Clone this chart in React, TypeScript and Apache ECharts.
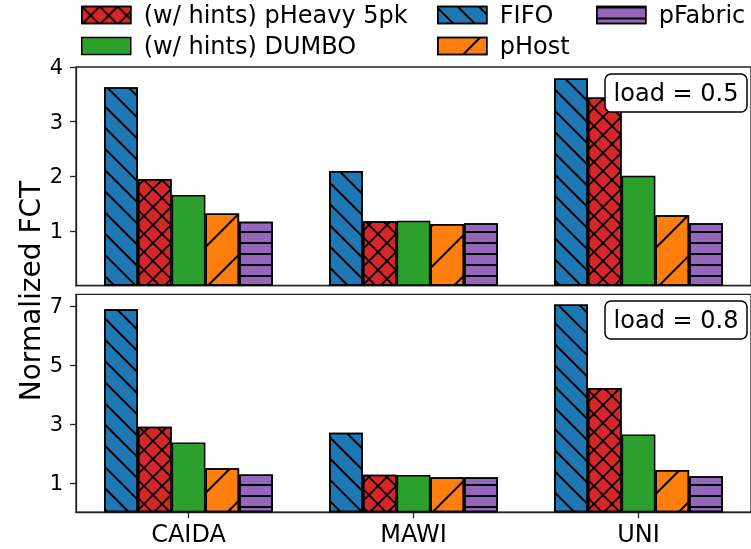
import React, { useEffect, useRef } from "react";
import * as echarts from "echarts";

const categories = ["CAIDA", "MAWI", "UNI"];
const seriesNames = ["FIFO", "(w/ hints) pHeavy 5pk", "(w/ hints) DUMBO", "pHost", "pFabric"];

// load = 0.5
const fifo05 = [3.63, 2.1, 3.79];
const pheavy05 = [1.95, 1.18, 3.44];
const dumbo05 = [1.66, 1.19, 2.01];
const phost05 = [1.32, 1.13, 1.29];
const pfabric05 = [1.17, 1.14, 1.14];

// load = 0.8
const fifo08 = [6.89, 2.7, 7.05];
const pheavy08 = [2.9, 1.27, 4.22];
const dumbo08 = [2.37, 1.26, 2.64];
const phost08 = [1.49, 1.19, 1.43];
const pfabric08 = [1.28, 1.19, 1.22];

const topTicks = [1, 2, 3, 4];
const bottomTicks = [1, 3, 5, 7];

const FONT = "DejaVu Sans";
const colors = ["#1f77b4", "#d62728", "#2ca02c", "#ff7f0e", "#9467bd"];

const hatchX =
  "path://M0,0L7,0L100,93L100,100L93,100L0,7Z M100,0L100,7L7,100L0,100L0,93L93,0Z M0,93L7,100L0,100Z M93,0L100,0L100,7Z M0,0L7,0L0,7Z M93,100L100,93L100,100Z";

const decals: any[] = [
  { symbol: "rect", dashArrayX: [1, 0], dashArrayY: [1.8, 12.3], rotation: Math.PI / 4, color: "#000" },
  { symbol: hatchX, symbolSize: 1, symbolKeepAspect: false, dashArrayX: [18, 0], dashArrayY: [18, 0], rotation: 0, color: "#000" },
  null,
  { symbol: "rect", dashArrayX: [1, 0], dashArrayY: [1.8, 26.5], rotation: -Math.PI / 4, color: "#000" },
  { symbol: "rect", dashArrayX: [1, 0], dashArrayY: [1.8, 8.9], rotation: 0, color: "#000" },
];

export default function App() {
  const ref = useRef<HTMLDivElement>(null);
  useEffect(() => {
    const chart = echarts.init(ref.current!, null, { renderer: "svg" });
    const data05 = [fifo05, pheavy05, dumbo05, phost05, pfabric05];
    const data08 = [fifo08, pheavy08, dumbo08, phost08, pfabric08];
    const series: any[] = [];
    [data05, data08].forEach((set, gi) => {
      set.forEach((vals, si) => {
        const itemStyle: any = { color: colors[si], borderColor: "#000", borderWidth: 1.5 };
        if (decals[si]) itemStyle.decal = decals[si];
        series.push({
          type: "bar",
          name: seriesNames[si],
          data: vals,
          xAxisIndex: gi,
          yAxisIndex: gi,
          barWidth: "15%",
          barGap: "0%",
          itemStyle,
        });
      });
    });

    const legendPos = [
      { name: seriesNames[1], left: 81, top: 3 },
      { name: seriesNames[2], left: 81, top: 34 },
      { name: seriesNames[0], left: 437, top: 3 },
      { name: seriesNames[3], left: 437, top: 34 },
      { name: seriesNames[4], left: 596, top: 3 },
    ];
    const legend = legendPos.map((p) => ({
      data: [p.name],
      left: p.left,
      top: p.top,
      padding: 0,
      icon: "rect",
      itemWidth: 49,
      itemHeight: 17,
      itemStyle: { borderColor: "#000", borderWidth: 1.5 },
      textStyle: { fontSize: 24, fontFamily: FONT, color: "#000", padding: [0, 0, 0, 8] },
      selectedMode: false,
    }));

    const axisLine = { show: true, lineStyle: { color: "#222", width: 1.3 } };
    const mkY = (max: number, ticks: number[]) => ({
      type: "value",
      min: 0,
      max,
      splitLine: { show: false },
      axisLine,
      axisTick: { show: true, length: 6, customValues: ticks, lineStyle: { color: "#222", width: 1.3 } },
      axisLabel: { customValues: ticks, fontSize: 21, fontFamily: FONT, color: "#000", margin: 13 },
    });

    chart.setOption({
      animation: false,
      grid: [
        { left: 76, top: 67, width: 676, height: 218.7, show: true, borderColor: "#222", borderWidth: 1.3 },
        { left: 76, top: 294.3, width: 676, height: 217.9, show: true, borderColor: "#222", borderWidth: 1.3 },
      ],
      legend,
      xAxis: [
        {
          type: "category",
          data: categories,
          gridIndex: 0,
          axisLine,
          axisTick: { show: false },
          axisLabel: { show: false },
        },
        {
          type: "category",
          data: categories,
          gridIndex: 1,
          axisLine,
          axisTick: { show: true, alignWithLabel: true, length: 6, lineStyle: { color: "#222", width: 1.3 } },
          axisLabel: { fontSize: 24, fontFamily: FONT, color: "#000", margin: 10 },
        },
      ],
      yAxis: [
        { ...mkY(4, topTicks), gridIndex: 0 },
        { ...mkY(7.4, bottomTicks), gridIndex: 1 },
      ],
      series,
      graphic: [
        {
          type: "text",
          x: 30,
          y: 291,
          rotation: Math.PI / 2,
          style: {
            text: "Normalized FCT",
            fontSize: 28,
            fontFamily: FONT,
            fill: "#000",
            textAlign: "center",
            textVerticalAlign: "middle",
          },
          z: 100,
        },
        {
          type: "group",
          z: 100,
          children: [
            { type: "rect", shape: { x: 605, y: 74, width: 142, height: 38, r: 6 }, style: { fill: "#fff", stroke: "#000", lineWidth: 1.5 }, z: 100 },
            { type: "text", x: 676, y: 93, style: { text: "load = 0.5", fontSize: 24, fontFamily: FONT, fill: "#000", textAlign: "center", textVerticalAlign: "middle" }, z: 101 },
            { type: "rect", shape: { x: 605, y: 301, width: 142, height: 38, r: 6 }, style: { fill: "#fff", stroke: "#000", lineWidth: 1.5 }, z: 100 },
            { type: "text", x: 676, y: 320, style: { text: "load = 0.8", fontSize: 24, fontFamily: FONT, fill: "#000", textAlign: "center", textVerticalAlign: "middle" }, z: 101 },
          ],
        },
      ],
    });
    return () => chart.dispose();
  }, []);
  return <div ref={ref} style={{ position: "fixed", left: 0, top: 0, width: 751, height: 549 }} />;
}
